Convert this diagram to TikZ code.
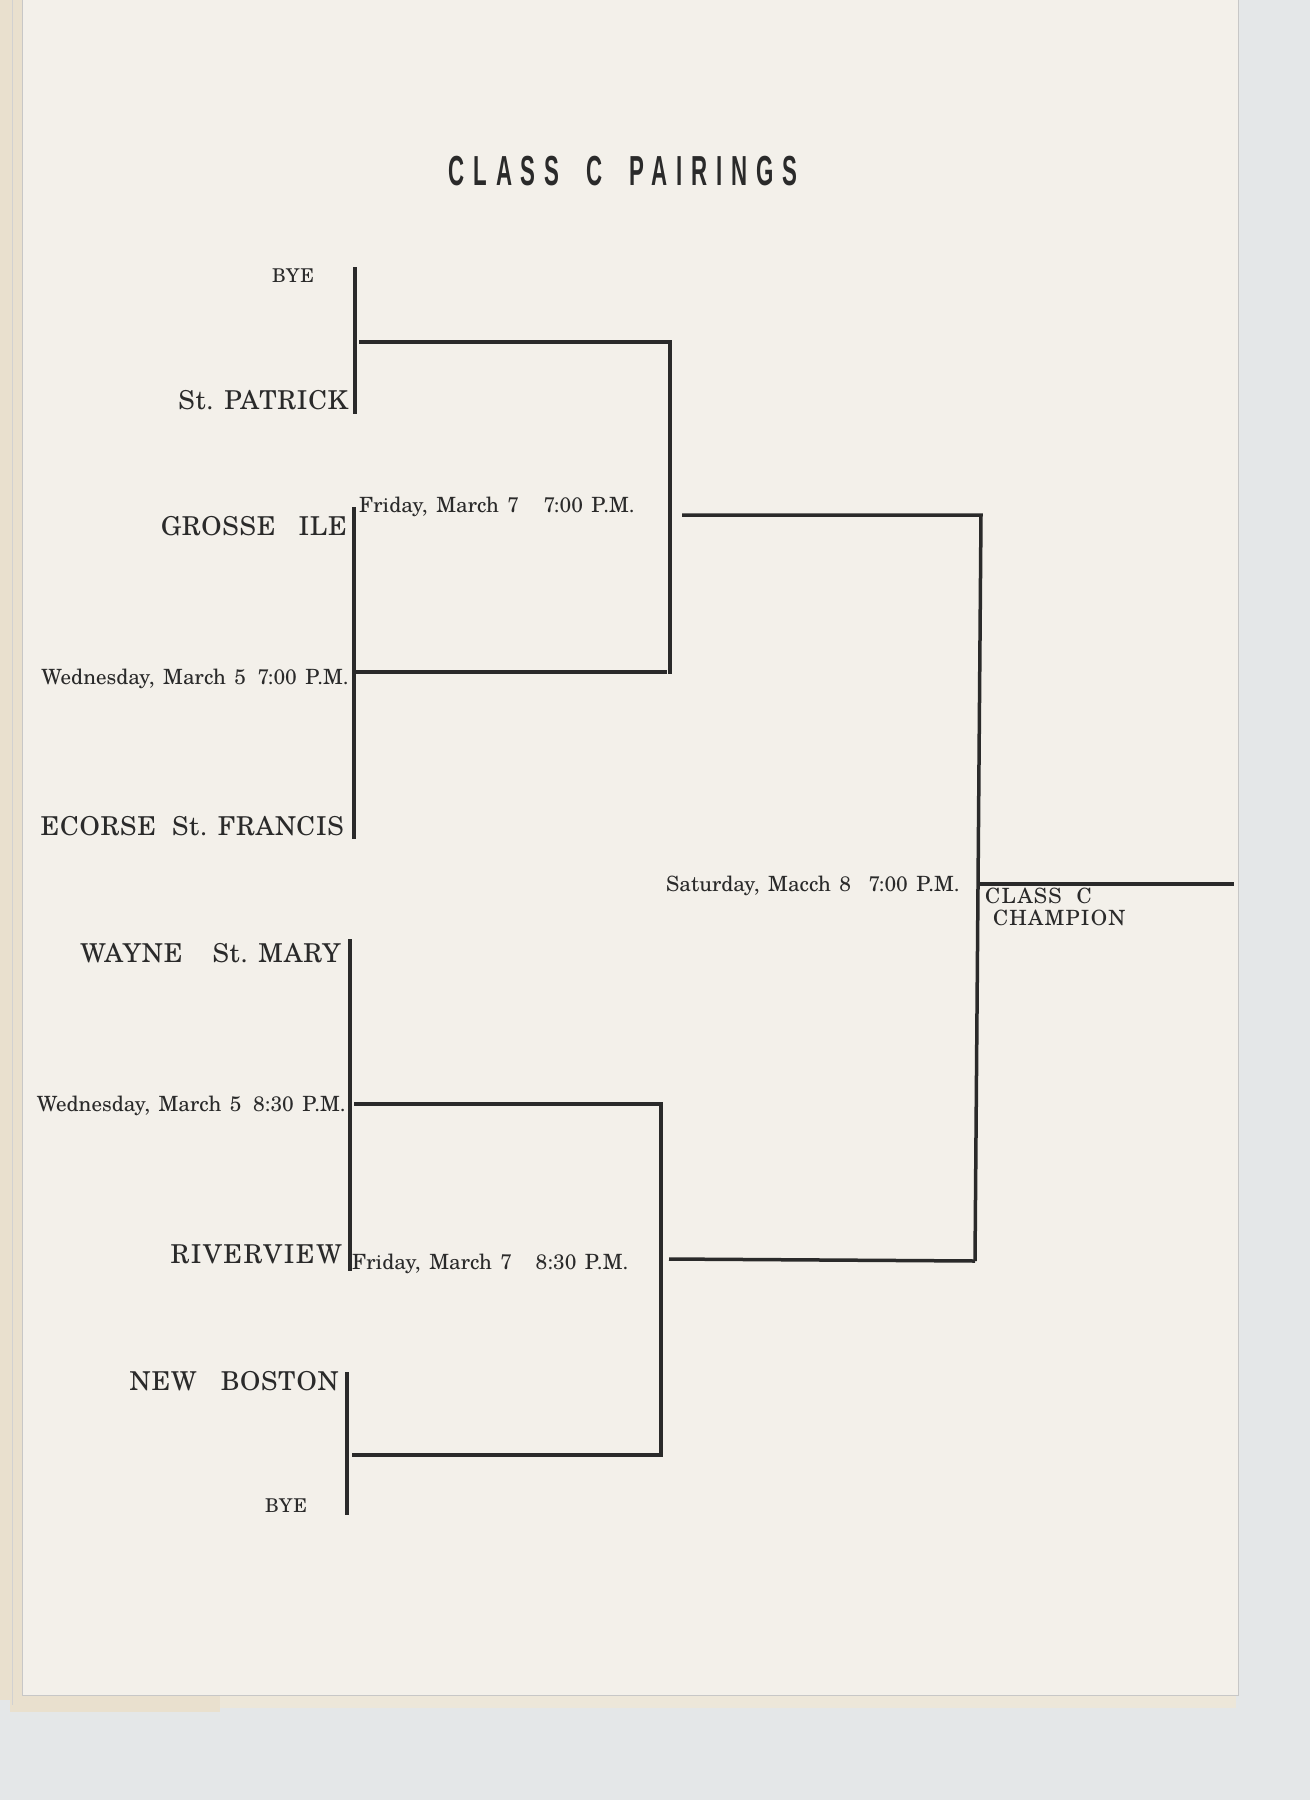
\documentclass[tikz,border=0pt]{standalone}
\usepackage{fontspec}
\usepackage{graphicx}
\IfFontExistsTF{texgyreschola-regular.otf}{\setmainfont{texgyreschola-regular.otf}}{}
\newfontfamily\titlefont[LetterSpace=40]{Liberation Sans}
\definecolor{ink}{HTML}{2A2A2A}
\definecolor{paper}{HTML}{F3F0EA}
\definecolor{backdrop}{HTML}{E4E7E8}
\definecolor{under}{HTML}{E9E0CE}
\newcommand\teamf{\fontsize{26}{29}\selectfont\addfontfeature{LetterSpace=3}}
\newcommand\teamwidef{\fontsize{26}{29}\selectfont\addfontfeature{LetterSpace=6}}
\newcommand\datef{\fontsize{21}{24}\selectfont\spaceskip=8.5pt\relax}
\newcommand\champf{\fontsize{21}{24}\selectfont\addfontfeature{LetterSpace=6}}
\newcommand\byef{\fontsize{19}{22}\selectfont\addfontfeature{LetterSpace=4}}
\begin{document}
\begin{tikzpicture}[x=1pt,y=-1pt,
  team/.style={anchor=base east,inner sep=0pt,font=\teamf,text=ink},
  dateleft/.style={anchor=base east,inner sep=0pt,font=\datef,text=ink},
  dateright/.style={anchor=base west,inner sep=0pt,font=\datef,text=ink},
  champlabel/.style={anchor=base west,inner sep=0pt,font=\champf,text=ink},
  byelabel/.style={anchor=base,inner sep=0pt,font=\byef,text=ink},
  bracket/.style={draw=ink,line width=3.5pt,line cap=butt,line join=miter}]
\useasboundingbox (0,0) rectangle (1310,1800);
% page and backdrop
\fill[backdrop] (0,0) rectangle (1310,1800);
\fill[under] (0,0) rectangle (22,1700);
\fill[under!60!paper] (10,1690) rectangle (1236,1708);
\fill[under] (10,1690) rectangle (220,1712);
\fill[paper] (22,0) rectangle (1238,1695);
\draw[black!22,line width=1pt] (22,0) -- (22,1695) -- (1238,1695) -- (1238,0);
\draw[black!18,line width=1pt] (12,0) -- (12,1705);
% title
\node[inner sep=0pt,anchor=base,text=ink] (title) at (623,185)
  {\scalebox{0.53}[1]{\fontsize{42}{44}\titlefont\bfseries CLASS\hspace{22pt} C\hspace{22pt} PAIRINGS}};
% team labels
\node[byelabel] (bye1) at (293,282) {BYE};
\node[team] (patrick) at (348,409) {St. PATRICK};
\node[team] (grosse) at (347,535) {GROSSE\hspace{23pt}ILE};
\node[dateleft] (wed1) at (349,684) {Wednesday, March 5\hspace{3pt} 7:00 P.M.};
\node[team] (ecorse) at (344,835) {ECORSE\hspace{8pt} St. FRANCIS};
\node[team] (wayne) at (341,962) {WAYNE\hspace{22pt} St. MARY};
\node[dateleft] (wed2) at (346,1111) {Wednesday, March 5\hspace{3pt} 8:30 P.M.};
\node[team,font=\teamwidef] (river) at (342,1263) {RIVERVIEW};
\node[team] (boston) at (339,1390) {NEW\hspace{16pt} BOSTON};
\node[byelabel] (bye2) at (286,1512) {BYE};
\node[dateright] (fri1) at (359,512) {Friday, March 7\hspace{16pt} 7:00 P.M.};
\node[dateright] (fri2) at (352,1269) {Friday, March 7\hspace{15pt} 8:30 P.M.};
\node[dateright] (sat) at (666,891) {Saturday, Macch 8\hspace{9pt} 7:00 P.M.};
\node[champlabel] (cls) at (985,903) {CLASS\hspace{8pt} C};
\node[champlabel] (champ) at (993,925) {CHAMPION};
% bracket coordinates
\coordinate (v1t) at (355,267);  \coordinate (v1b) at (355,414);
\coordinate (h1a) at (359,342);  \coordinate (h1b) at (670,342);
\coordinate (v2b) at (670,674);
\coordinate (v3t) at (354,507);  \coordinate (v3b) at (354,839);
\coordinate (h2a) at (356,672);  \coordinate (h2b) at (667,672);
\coordinate (h3a) at (682,515);  \coordinate (h3b) at (981,515);
\coordinate (v4b) at (975,1261);
\coordinate (h4a) at (978,884);  \coordinate (h4b) at (1234,884);
\coordinate (h5a) at (669,1259);
\coordinate (v5t) at (350,939);  \coordinate (v5b) at (350,1271);
\coordinate (h6a) at (354,1104); \coordinate (h6b) at (661,1104);
\coordinate (v6b) at (661,1457);
\coordinate (h7a) at (352,1455); \coordinate (h7b) at (659,1455);
\coordinate (v7t) at (347,1372); \coordinate (v7b) at (347,1515);
% bracket lines
\draw[bracket] (v1t) -- (v1b);
\draw[bracket] (h1a) -- (h1b) -- (v2b);
\draw[bracket] (v3t) -- (v3b);
\draw[bracket] (h2a) -- (h2b);
\draw[bracket] (h3a) -- (h3b) -- (v4b);
\draw[bracket] (h5a) -- (v4b);
\draw[bracket] (h4a) -- (h4b);
\draw[bracket] (v5t) -- (v5b);
\draw[bracket] (h6a) -- (h6b) -- (v6b);
\draw[bracket] (h7a) -- (h7b);
\draw[bracket] (v7t) -- (v7b);
\end{tikzpicture}
\end{document}
